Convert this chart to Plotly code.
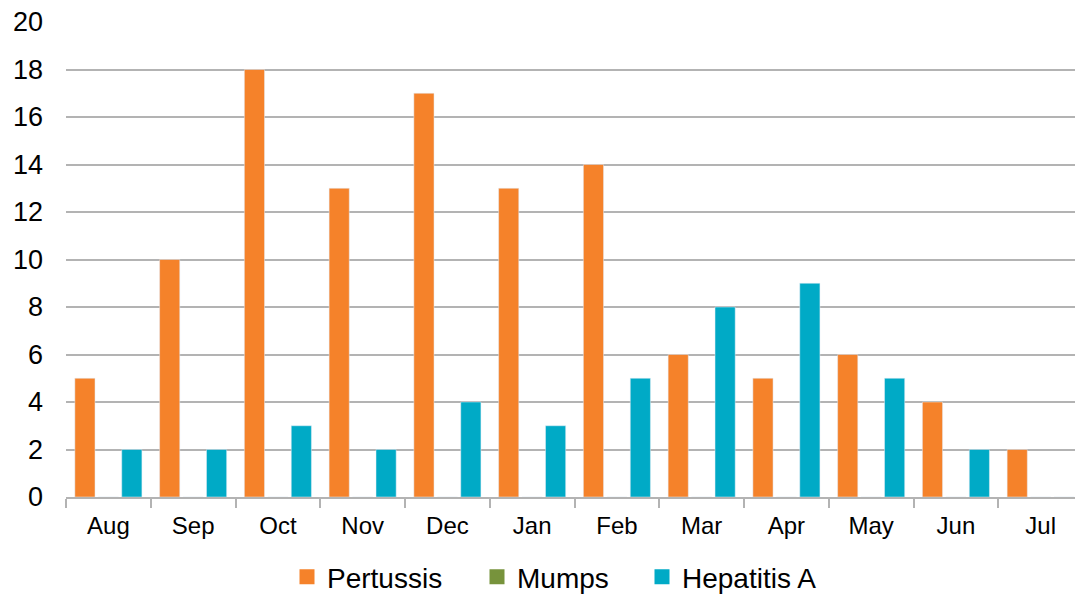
import plotly.graph_objects as go

months = ["Aug", "Sep", "Oct", "Nov", "Dec", "Jan", "Feb", "Mar", "Apr", "May", "Jun", "Jul"]
pertussis = [5, 10, 18, 13, 17, 13, 14, 6, 5, 6, 4, 2]
mumps = [0, 0, 0, 0, 0, 0, 0, 0, 0, 0, 0, 0]
hepatitis_a = [2, 2, 3, 2, 4, 3, 5, 8, 9, 5, 2, 0]
y_ticks = [0, 2, 4, 6, 8, 10, 12, 14, 16, 18, 20]

series = [
    ("Pertussis", pertussis, "#F5822A", "legend"),
    ("Mumps", mumps, "#77933C", "legend2"),
    ("Hepatitis A", hepatitis_a, "#00AAC6", "legend3"),
]

fig = go.Figure()
for name, values, color, leg in series:
    fig.add_bar(x=months, y=values, name=name, marker_color=color,
                legendgroup=name, showlegend=False)
# square legend keys, one legend box per series so each key sits at its own spot
for name, values, color, leg in series:
    fig.add_scatter(x=[None], y=[None], mode="markers", name=name, legendgroup=name,
                    legend=leg, marker=dict(symbol="square", size=15, color=color))

legend_style = dict(orientation="h", xref="container", yref="container",
                    xanchor="left", yanchor="middle", y=0.03,
                    font=dict(size=28), itemwidth=30, bgcolor="rgba(0,0,0,0)")
legend_left = {"legend": 287, "legend2": 477, "legend3": 642}

fig.update_layout(
    width=1075, height=595,
    margin=dict(l=66, r=0, t=22, b=98),
    paper_bgcolor="white", plot_bgcolor="white",
    barmode="group", bargap=0.17, bargroupgap=0.14,
    font=dict(family="Liberation Sans, Arial, sans-serif", color="black"),
    showlegend=True,
    legend=dict(legend_style, x=legend_left["legend"] / 1075),
    legend2=dict(legend_style, x=legend_left["legend2"] / 1075),
    legend3=dict(legend_style, x=legend_left["legend3"] / 1075),
)
fig.update_xaxes(
    type="category", range=[-0.5, 11.405],
    tickson="boundaries", ticks="outside", ticklen=9, tickwidth=2, tickcolor="#B3B3B3",
    showline=True, linecolor="#B3B3B3", linewidth=2,
    showgrid=False, tickfont=dict(size=24), ticklabelstandoff=6,
)
fig.update_yaxes(
    range=[0, 20], tickvals=y_ticks, showgrid=True, gridcolor="#B3B3B3", gridwidth=2,
    zeroline=False, showline=False, ticks="", tickfont=dict(size=27), ticklabelstandoff=22,
)

fig.write_html("out.html")
